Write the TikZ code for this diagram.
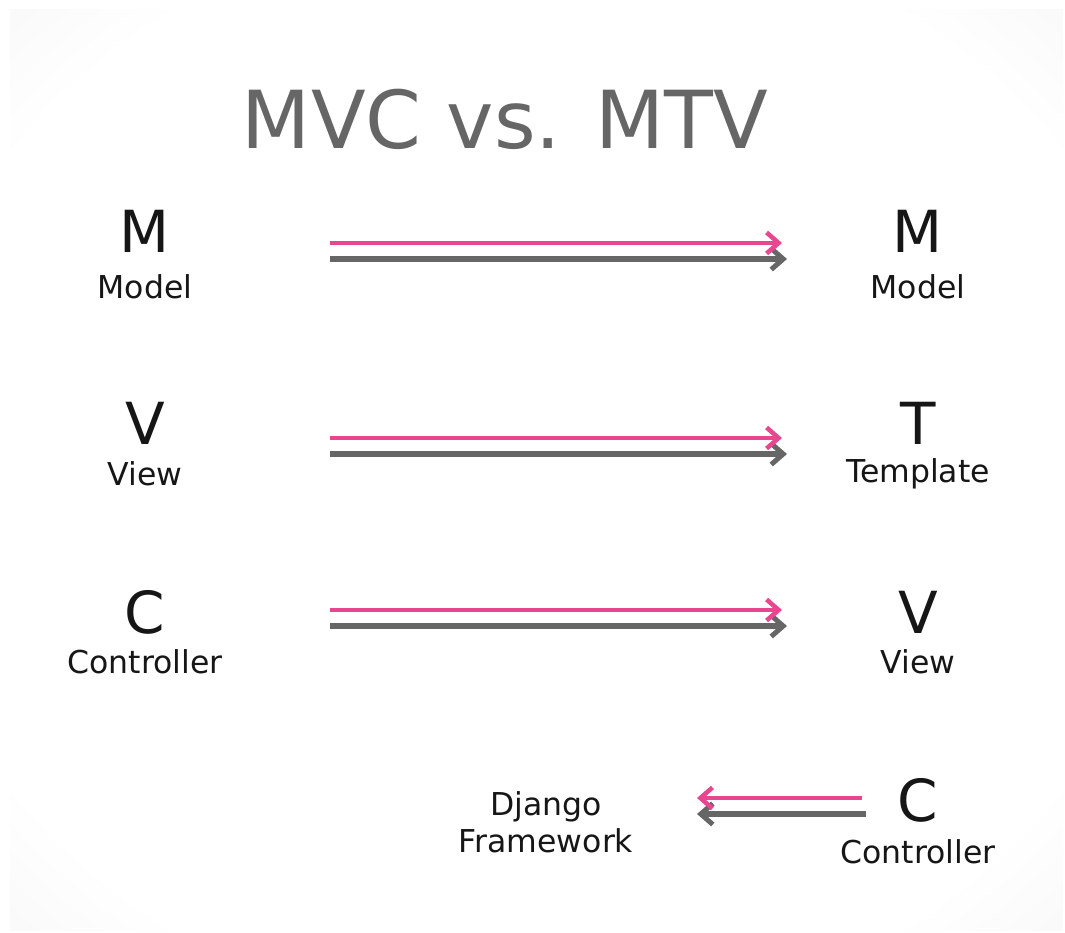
\documentclass[tikz,border=0pt]{standalone}
\usepackage{fontspec}
\setmainfont{DejaVu Sans}
\usetikzlibrary{arrows.meta}

\definecolor{djpink}{HTML}{E8478F}
\definecolor{djgrey}{HTML}{666666}
\definecolor{djtext}{HTML}{161616}

\pgfdeclareradialshading{vignette}{\pgfpoint{0bp}{0bp}}{%
  color(0bp)=(white); color(30bp)=(white); color(50bp)=(black!8); color(72bp)=(black!14)}

\begin{document}
\begin{tikzpicture}[x=1pt, y=-1pt,
    letter/.style={text=djtext, font=\fontsize{58}{58}\selectfont, inner sep=0pt},
    word/.style={text=djtext, font=\fontsize{31.5}{37}\selectfont, inner sep=0pt, align=center},
    pinkline/.style={djpink, line width=4.5pt, -{Straight Barb[length=12pt, width=21pt, line width=4.5pt]}},
    greyline/.style={djgrey, line width=6pt, -{Straight Barb[length=12pt, width=21pt, line width=5pt]}}]
    \useasboundingbox (0,0) rectangle (1065,933);
    \fill[white] (0,0) rectangle (1065,933);
    \shade[shading=vignette] (10,10) rectangle (1063,930);

    \node[text=djgrey, font=\fontsize{80}{80}\selectfont, inner sep=0pt] (title) at (505,119) {MVC vs. MTV};

    % mvc side
    \node[letter] (mL) at (145,231) {M};
    \node[word] (modelL) at (145,287) {Model};
    \node[letter] (vL) at (145,423) {V};
    \node[word] (viewL) at (145,474) {View};
    \node[letter] (cL) at (145,612) {C};
    \node[word] (controllerL) at (145,662) {Controller};

    % mtv side
    \node[letter] (mR) at (918,231) {M};
    \node[word] (modelR) at (918,287) {Model};
    \node[letter] (tR) at (918,423) {T};
    \node[word] (templateR) at (918,474) {Template};
    \node[letter] (vR) at (918,612) {V};
    \node[word] (viewR) at (918,662) {View};
    \node[letter] (cR) at (918,800) {C};
    \node[word] (controllerR) at (918,852) {Controller};

    \node[word] (django) at (546,822) {Django\\Framework};

    % arrow ends
    \coordinate (a1) at (330,243);  \coordinate (b1) at (782,243);
    \coordinate (c1) at (330,259);  \coordinate (d1) at (787,259);
    \coordinate (a2) at (330,438);  \coordinate (b2) at (782,438);
    \coordinate (c2) at (330,454);  \coordinate (d2) at (787,454);
    \coordinate (a3) at (330,610);  \coordinate (b3) at (782,610);
    \coordinate (c3) at (330,626);  \coordinate (d3) at (787,626);
    \coordinate (a4) at (862,798);  \coordinate (b4) at (697,798);
    \coordinate (c4) at (866,814);  \coordinate (d4) at (697,814);

    \draw[greyline] (c1) -- (d1);
    \draw[pinkline] (a1) -- (b1);
    \draw[greyline] (c2) -- (d2);
    \draw[pinkline] (a2) -- (b2);
    \draw[greyline] (c3) -- (d3);
    \draw[pinkline] (a3) -- (b3);
    \draw[greyline] (c4) -- (d4);
    \draw[pinkline] (a4) -- (b4);
\end{tikzpicture}
\end{document}
